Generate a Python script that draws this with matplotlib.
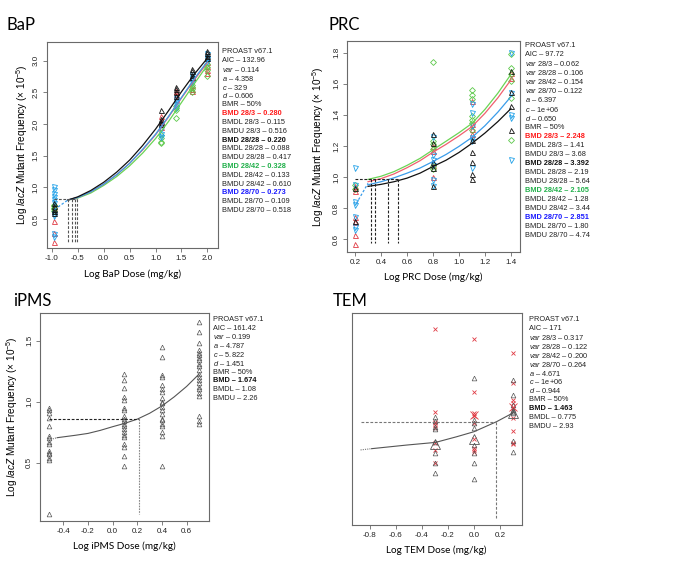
import matplotlib
matplotlib.use("Agg")
import matplotlib.pyplot as plt

plt.rcParams['font.family'] = ['Liberation Sans', 'DejaVu Sans']
plt.rcParams['mathtext.fontset'] = 'custom'
plt.rcParams['mathtext.rm'] = 'Liberation Sans'
plt.rcParams['mathtext.it'] = 'Liberation Sans:italic'
plt.rcParams['mathtext.bf'] = 'Liberation Sans:bold'
plt.rcParams['axes.unicode_minus'] = False

W, H = 678, 566
D = "\u2013"

# ---------------- BaP data ----------------
bap_doses = [-0.95, 1.1, 1.4, 1.7, 2.0]
bap_red = [[0.47, 0.28, 0.13, 0.62, 0.68, 0.72],
           [2.12, 2.05, 2.00, 1.95],
           [2.52, 2.47, 2.40],
           [2.72, 2.62, 2.55, 2.52],
           [2.98, 2.92, 2.85, 2.80]]
bap_black = [[0.60, 0.65, 0.70, 0.75, 0.62],
             [2.22, 2.08, 2.03, 2.00],
             [2.58, 2.55, 2.50, 2.45],
             [2.87, 2.83, 2.78, 2.75],
             [3.16, 3.12, 3.08, 3.05]]
bap_green = [[0.66, 0.70, 0.72, 0.63, 0.68],
             [1.82, 1.78, 1.72, 1.70],
             [2.28, 2.25, 2.22, 2.09],
             [2.62, 2.58, 2.55, 2.50],
             [2.95, 2.90, 2.85, 2.76]]
bap_blue = [[1.00, 0.95, 0.90, 0.85, 0.80, 0.75, 0.58, 0.55, 0.27, 0.22],
            [1.98, 1.92, 1.85, 1.80],
            [2.40, 2.35, 2.30, 2.25],
            [2.78, 2.72, 2.68, 2.65],
            [3.10, 3.05, 3.02, 2.98]]
bap_curve_x = [-0.69, -0.5, -0.25, 0.0, 0.25, 0.5, 0.75, 1.0, 1.25, 1.5, 1.75, 2.0]
bap_curve_black = [0.80, 0.85, 0.95, 1.08, 1.24, 1.43, 1.66, 1.92, 2.21, 2.51, 2.79, 3.04]
bap_curve_red = [0.80, 0.84, 0.93, 1.05, 1.20, 1.38, 1.59, 1.83, 2.11, 2.41, 2.70, 2.97]
bap_curve_blue = [0.80, 0.84, 0.93, 1.05, 1.20, 1.38, 1.60, 1.84, 2.12, 2.42, 2.72, 2.99]
bap_curve_green = [0.80, 0.83, 0.91, 1.03, 1.17, 1.34, 1.54, 1.77, 2.04, 2.34, 2.64, 2.93]
bap_lead = ([-0.95, -0.69], [0.65, 0.80])
bap_bmr = 0.81
bap_bmd_x = [-0.69, -0.62, -0.56, -0.51]
bap_text = ["PROAST v67.1", f"AIC {D} 132.96", f"$\\mathit{{var}}$ {D} 0.114",
            f"$\\mathit{{a}}$ {D} 4.358", f"$\\mathit{{c}}$ {D} 329", f"$\\mathit{{d}}$ {D} 0.606",
            f"BMR {D} 50%", f"BMD 28/3 {D} 0.280", f"BMDL 28/3 {D} 0.115", f"BMDU 28/3 {D} 0.516",
            f"BMD 28/28 {D} 0.220", f"BMDL 28/28 {D} 0.088", f"BMDU 28/28 {D} 0.417",
            f"BMD 28/42 {D} 0.328", f"BMDL 28/42 {D} 0.133", f"BMDU 28/42 {D} 0.610",
            f"BMD 28/70 {D} 0.273", f"BMDL 28/70 {D} 0.109", f"BMDU 28/70 {D} 0.518"]

# ---------------- PRC data ----------------
prc_doses = [0.2, 0.8, 1.1, 1.4]
prc_red = [[0.94, 0.91, 0.74, 0.71, 0.63, 0.57],
           [1.20, 1.17, 1.08, 1.00],
           [1.49, 1.34, 1.31, 1.28],
           [1.67, 1.64]]
prc_black = [[0.93, 0.72],
             [1.28, 1.22, 1.10, 1.06, 0.94],
             [1.24, 1.16, 1.10, 1.02, 0.99],
             [1.68, 1.55, 1.46, 1.30]]
prc_green = [[0.95, 0.92],
             [1.74, 1.23, 1.21, 1.18, 1.07, 1.05],
             [1.56, 1.53, 1.50, 1.39, 1.37, 1.35, 1.30],
             [1.79, 1.70, 1.66, 1.62, 1.51, 1.24]]
prc_blue = [[1.06, 0.95, 0.84, 0.82, 0.74, 0.68, 0.66],
            [1.26, 1.14, 1.11, 1.08, 0.98, 0.94],
            [1.47, 1.41, 1.33, 1.25, 1.23, 1.06],
            [1.80, 1.54, 1.40, 1.38, 1.11]]
prc_curve_x = [0.30, 0.4, 0.5, 0.6, 0.7, 0.8, 0.9, 1.0, 1.1, 1.2, 1.3, 1.4]
prc_curve_black = [0.940, 0.953, 0.970, 0.993, 1.025, 1.068, 1.108, 1.158, 1.217, 1.283, 1.357, 1.440]
prc_curve_blue = [0.950, 0.970, 0.995, 1.025, 1.058, 1.100, 1.145, 1.197, 1.255, 1.330, 1.418, 1.517]
prc_curve_red = [0.970, 0.990, 1.020, 1.060, 1.105, 1.160, 1.210, 1.265, 1.324, 1.410, 1.510, 1.625]
prc_curve_green = [0.985, 1.005, 1.035, 1.075, 1.120, 1.175, 1.230, 1.285, 1.345, 1.435, 1.540, 1.660]
prc_lead = ([0.21, 0.30], [0.83, 0.96])
prc_bmr = 0.985
prc_bmd_x = [0.323, 0.354, 0.452, 0.529]
prc_text = ["PROAST v67.1", f"AIC {D} 97.72", f"$\\mathit{{var}}$ 28/3 {D} 0.062",
            f"$\\mathit{{var}}$ 28/28 {D} 0.106", f"$\\mathit{{var}}$ 28/42 {D} 0.154",
            f"$\\mathit{{var}}$ 28/70 {D} 0.122", f"$\\mathit{{a}}$ {D} 6.397",
            f"$\\mathit{{c}}$ {D} 1e+06", f"$\\mathit{{d}}$ {D} 0.650", f"BMR {D} 50%",
            f"BMD 28/3 {D} 2.248", f"BMDL 28/3 {D} 1.41", f"BMDU 28/3 {D} 3.68",
            f"BMD 28/28 {D} 3.392", f"BMDL 28/28 {D} 2.19", f"BMDU 28/28 {D} 5.64",
            f"BMD 28/42 {D} 2.105", f"BMDL 28/42 {D} 1.28", f"BMDU 28/42 {D} 3.44",
            f"BMD 28/70 {D} 2.851", f"BMDL 28/70 {D} 1.80", f"BMDU 28/70 {D} 4.74"]

# ---------------- iPMS data ----------------
ipms_doses = [-0.52, 0.09, 0.40, 0.70]
ipms_values = [[0.95, 0.93, 0.91, 0.87, 0.80, 0.72, 0.70, 0.67, 0.65, 0.60, 0.58, 0.57, 0.54, 0.52, 0.08],
               [1.23, 1.18, 1.11, 1.04, 1.01, 0.95, 0.93, 0.88, 0.86, 0.84, 0.82, 0.80, 0.78, 0.75,
                0.73, 0.71, 0.65, 0.63, 0.555, 0.475],
               [1.445, 1.37, 1.22, 1.20, 1.14, 1.10, 1.08, 1.03, 1.00, 0.99, 0.96, 0.93, 0.90, 0.86,
                0.85, 0.82, 0.80, 0.75, 0.72, 0.475],
               [1.65, 1.57, 1.48, 1.42, 1.40, 1.38, 1.355, 1.34, 1.31, 1.29, 1.26, 1.23, 1.20, 1.18,
                1.15, 1.12, 1.10, 1.07, 1.05, 0.88, 0.84, 0.82]]
ipms_curve_x = [-0.45, -0.3, -0.2, -0.1, 0.0, 0.1, 0.2, 0.3, 0.4, 0.5, 0.6, 0.7]
ipms_curve_y = [0.705, 0.725, 0.74, 0.765, 0.795, 0.823, 0.857, 0.905, 0.965, 1.04, 1.125, 1.225]
ipms_lead = ([-0.52, -0.45], [0.686, 0.705])
ipms_bmr = 0.858
ipms_bmd_x = 0.21
ipms_text = ["PROAST v67.1", f"AIC {D} 161.42", f"$\\mathit{{var}}$ {D} 0.199",
             f"$\\mathit{{a}}$ {D} 4.787", f"$\\mathit{{c}}$ {D} 5.822", f"$\\mathit{{d}}$ {D} 1.451",
             f"BMR {D} 50%", f"BMD {D} 1.674", f"BMDL {D} 1.08", f"BMDU {D} 2.26"]

# ---------------- TEM data ----------------
tem_doses = [-0.3, 0.0, 0.3]
tem_cross = [[1.433, 0.909, 0.845, 0.834, 0.824, 0.803, 0.707, 0.665, 0.584],
             [1.369, 1.032, 0.898, 0.881, 0.839, 0.732, 0.675, 0.665, 0.654],
             [1.280, 1.089, 0.983, 0.962, 0.930, 0.866, 0.788, 0.711, 0.703]]
tem_tri = [[0.877, 0.851, 0.813, 0.796, 0.718, 0.643, 0.584, 0.516],
           [1.121, 0.856, 0.839, 0.803, 0.696, 0.648, 0.580, 0.480],
           [1.110, 1.015, 0.951, 0.919, 0.909, 0.898, 0.724, 0.650]]
tem_mean_tri_x = [-0.3, 0.0, 0.3]
tem_mean_tri_y = [0.703, 0.735, 0.902]
tem_mean_cross_x = [0.0, 0.3]
tem_mean_cross_y = [0.887, 0.941]
tem_curve_x = [-0.787, -0.518, -0.295, -0.133, 0.0, 0.174, 0.303]
tem_curve_y = [0.673, 0.696, 0.713, 0.749, 0.781, 0.845, 0.902]
tem_lead = ([-0.872, -0.787], [0.665, 0.673])
tem_bmr = 0.845
tem_bmd_x = 0.167
tem_text = ["PROAST v67.1", f"AIC {D} 171", f"$\\mathit{{var}}$ 28/3 {D} 0.317",
            f"$\\mathit{{var}}$ 28/28 {D} 0.122", f"$\\mathit{{var}}$ 28/42 {D} 0.200",
            f"$\\mathit{{var}}$ 28/70 {D} 0.264", f"$\\mathit{{a}}$ {D} 4.671",
            f"$\\mathit{{c}}$ {D} 1e+06", f"$\\mathit{{d}}$ {D} 0.944", f"BMR {D} 50%",
            f"BMD {D} 1.463", f"BMDL {D} 0.775", f"BMDU {D} 2.93"]

# ---------------- styling ----------------
C_RED, C_BLACK, C_GREEN, C_BLUE = "#E03A44", "#111111", "#5CC84A", "#1FA0E8"
CUR_RED, CUR_GREEN, CUR_BLUE = "#F0606E", "#6AD455", "#3A9CEA"
TXT_RED, TXT_GREEN, TXT_BLUE = "#FF1A1A", "#22B04B", "#1A1AFF"
SPINE = "#6a6a6a"
YLAB = "Log $\\mathit{lacZ}$ Mutant Frequency (\u00d7 10$^{-5}$)"
LABFONT = ['Lato', 'DejaVu Sans']

fig = plt.figure(figsize=(W / 100, H / 100), dpi=100)


def add_ax(l, t, r, b):
    ax = fig.add_axes([l / W, 1 - b / H, (r - l) / W, (b - t) / H])
    for s in ax.spines.values():
        s.set_color(SPINE)
        s.set_linewidth(0.8)
    ax.tick_params(direction='out', length=3, width=0.6, color=SPINE,
                   labelsize=5.8, labelcolor='#222222', pad=2)
    ax.tick_params(axis='y', labelrotation=90)
    return ax


def fmt(ax):
    ax.xaxis.set_major_formatter(matplotlib.ticker.FormatStrFormatter('%.1f'))
    ax.yaxis.set_major_formatter(matplotlib.ticker.FormatStrFormatter('%.1f'))
    for lab in ax.get_yticklabels():
        lab.set_va('center')


def pts(ax, doses, groups, marker, color, ms=3.6, mew=0.6):
    for d, vals in zip(doses, groups):
        ax.plot([d] * len(vals), vals, linestyle='none', marker=marker, ms=ms,
                mfc='none', mec=color, mew=mew)


def text_block(x, y0, dy, lines, styles):
    for i, line in enumerate(lines):
        color, weight = styles.get(i, ('#222222', 'normal'))
        fig.text(x / W, 1 - (y0 + i * dy) / H, line, fontsize=5.3, color=color,
                 fontweight=weight, va='center', ha='left')


def title(x, y, s):
    fig.text(x / W, 1 - y / H, s, fontsize=12, family=LABFONT, va='center', ha='left')


# ---------------- BaP panel ----------------
ax = add_ax(46.7, 41.7, 218.3, 248.3)
ax.set_xlim(-1.10, 2.21)
ax.set_ylim(0.037, 3.30)
ax.set_xticks([-1.0, -0.5, 0.0, 0.5, 1.0, 1.5, 2.0])
ax.set_yticks([0.5, 1.0, 1.5, 2.0, 2.5, 3.0])
fmt(ax)
pts(ax, bap_doses, bap_red, '^', C_RED)
pts(ax, bap_doses, bap_green, 'D', C_GREEN, ms=3.0)
pts(ax, bap_doses, bap_blue, 'v', C_BLUE)
pts(ax, bap_doses, bap_black, '^', C_BLACK)
ax.plot(bap_curve_x, bap_curve_green, color=CUR_GREEN, lw=0.9)
ax.plot(bap_curve_x, bap_curve_red, color=CUR_RED, lw=0.9)
ax.plot(bap_curve_x, bap_curve_blue, color=CUR_BLUE, lw=0.9)
ax.plot(bap_curve_x, bap_curve_black, color=C_BLACK, lw=0.9)
ax.plot(*bap_lead, color=CUR_BLUE, lw=0.9, ls=(0, (2, 1.5)))
ax.plot([bap_doses[0], max(bap_bmd_x)], [bap_bmr, bap_bmr], color='#555555', lw=0.8, ls=(0, (2.5, 1.5)))
for bx in bap_bmd_x:
    ax.plot([bx, bx], [bap_bmr, 0.13], color='#555555', lw=0.8, ls=(0, (2.5, 1.5)))
ax.set_ylabel(YLAB, fontsize=7.2, labelpad=2)
ax.set_xlabel("Log BaP Dose (mg/kg)", fontsize=7.2, family=LABFONT, labelpad=5)
title(7, 25, "BaP")
text_block(221.7, 51.7, 8.83, bap_text,
           {7: (TXT_RED, 'bold'), 10: (C_BLACK, 'bold'), 13: (TXT_GREEN, 'bold'), 16: (TXT_BLUE, 'bold')})

# ---------------- PRC panel ----------------
ax = add_ax(347, 41, 520, 252)
ax.set_xlim(0.138, 1.47)
ax.set_ylim(0.518, 1.875)
ax.set_xticks([0.2, 0.4, 0.6, 0.8, 1.0, 1.2, 1.4])
ax.set_yticks([0.6, 0.8, 1.0, 1.2, 1.4, 1.6, 1.8])
fmt(ax)
pts(ax, prc_doses, prc_red, '^', C_RED)
pts(ax, prc_doses, prc_green, 'D', C_GREEN, ms=3.0)
pts(ax, prc_doses, prc_blue, 'v', C_BLUE)
pts(ax, prc_doses, prc_black, '^', C_BLACK)
ax.plot(prc_curve_x, prc_curve_green, color=CUR_GREEN, lw=0.9)
ax.plot(prc_curve_x, prc_curve_red, color=CUR_RED, lw=0.9)
ax.plot(prc_curve_x, prc_curve_blue, color=CUR_BLUE, lw=0.9)
ax.plot(prc_curve_x, prc_curve_black, color=C_BLACK, lw=0.9)
ax.plot(*prc_lead, color=CUR_BLUE, lw=0.9, ls=(0, (2, 1.5)))
ax.plot([prc_doses[0], max(prc_bmd_x)], [prc_bmr, prc_bmr], color='#222222', lw=0.8, ls=(0, (2.5, 1.5)))
for bx in prc_bmd_x:
    ax.plot([bx, bx], [prc_bmr, 0.574], color='#222222', lw=0.8, ls=(0, (2.5, 1.5)))
ax.set_ylabel(YLAB, fontsize=7.2, labelpad=5)
ax.set_xlabel("Log PRC Dose (mg/kg)", fontsize=7.2, family=LABFONT, labelpad=5)
title(329, 25, "PRC")
text_block(525, 45.7, 9.05, prc_text,
           {10: (TXT_RED, 'bold'), 13: (C_BLACK, 'bold'), 16: (TXT_GREEN, 'bold'), 19: (TXT_BLUE, 'bold')})

# ---------------- iPMS panel ----------------
ax = add_ax(40, 313.3, 209.3, 520.7)
ax.set_xlim(-0.589, 0.784)
ax.set_ylim(0.025, 1.724)
ax.set_xticks([-0.4, -0.2, 0.0, 0.2, 0.4, 0.6])
ax.set_yticks([0.5, 1.0, 1.5])
fmt(ax)
pts(ax, ipms_doses, ipms_values, '^', '#555555', ms=3.4, mew=0.5)
ax.plot(ipms_curve_x, ipms_curve_y, color='#555555', lw=0.8)
ax.plot(*ipms_lead, color='#777777', lw=0.8, ls=(0, (1, 1)))
ax.plot([ipms_doses[0], ipms_bmd_x], [ipms_bmr, ipms_bmr], color='#222222', lw=0.8, ls=(0, (2.5, 1.5)))
ax.plot([ipms_bmd_x, ipms_bmd_x], [ipms_bmr, 0.08], color='#888888', lw=0.8, ls=(0, (1.5, 1)))
ax.set_ylabel(YLAB, fontsize=7.2, labelpad=4)
ax.set_xlabel("Log iPMS Dose (mg/kg)", fontsize=7.2, family=LABFONT, labelpad=5)
title(13, 301, "iPMS")
text_block(213, 319.3, 8.8, ipms_text, {7: (C_BLACK, 'bold')})

# ---------------- TEM panel ----------------
ax = add_ax(351.7, 313.3, 521.7, 525)
ax.set_xlim(-0.94, 0.367)
ax.set_ylim(0.187, 1.535)
ax.set_xticks([-0.8, -0.6, -0.4, -0.2, 0.0, 0.2])
ax.set_yticks([])
fmt(ax)
pts(ax, tem_doses, tem_cross, 'x', C_RED, ms=3.0, mew=0.6)
pts(ax, tem_doses, tem_tri, '^', '#555555', ms=3.4, mew=0.5)
ax.plot(tem_mean_tri_x, tem_mean_tri_y, linestyle='none', marker='^', ms=7, mfc='none', mec='#555555', mew=0.6)
ax.plot(tem_mean_cross_x, tem_mean_cross_y, linestyle='none', marker='x', ms=6, mec=C_RED, mew=0.6)
ax.plot(tem_curve_x, tem_curve_y, color='#555555', lw=0.8)
ax.plot(*tem_lead, color='#777777', lw=0.8, ls=(0, (1, 1)))
ax.plot([tem_lead[0][0], tem_bmd_x], [tem_bmr, tem_bmr], color='#777777', lw=0.8, ls=(0, (2.5, 1.5)))
ax.plot([tem_bmd_x, tem_bmd_x], [tem_bmr, 0.229], color='#777777', lw=0.8, ls=(0, (2.5, 1.5)))
ax.set_xlabel("Log TEM Dose (mg/kg)", fontsize=7.2, family=LABFONT, labelpad=5)
title(333, 301, "TEM")
text_block(529, 319.3, 8.95, tem_text, {10: (C_BLACK, 'bold')})

fig.savefig("out.png", dpi=100)
